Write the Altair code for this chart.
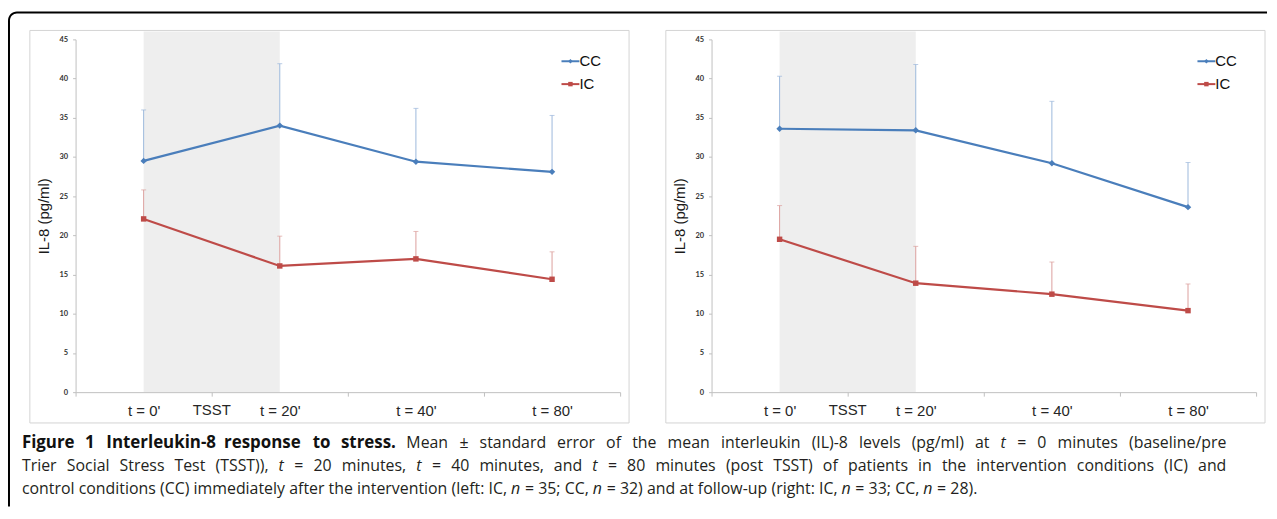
import altair as alt
import pandas as pd

# ---------------- data ----------------
times = ["t = 0'", "t = 20'", "t = 40'", "t = 80'"]
series = ["CC", "IC"]
y_ticks = [0, 5, 10, 15, 20, 25, 30, 35, 40, 45]

left_cc_mean = [29.5, 34.0, 29.4, 28.1]
left_cc_upper = [36.0, 41.9, 36.2, 35.3]
left_ic_mean = [22.1, 16.1, 17.0, 14.4]
left_ic_upper = [25.8, 19.9, 20.5, 17.9]

right_cc_mean = [33.6, 33.4, 29.2, 23.6]
right_cc_upper = [40.3, 41.8, 37.1, 29.3]
right_ic_mean = [19.5, 13.9, 12.5, 10.4]
right_ic_upper = [23.8, 18.6, 16.6, 13.8]

caption_bold = "Figure 1 Interleukin-8 response to stress."
caption_lines = [
    "Mean \u00b1 standard error of the mean interleukin (IL)-8 levels (pg/ml) at t = 0 minutes (baseline/pre",
    "Trier Social Stress Test (TSST)), t = 20 minutes, t = 40 minutes, and t = 80 minutes (post TSST) of patients in the intervention conditions (IC) and",
    "control conditions (CC) immediately after the intervention (left: IC, n = 35; CC, n = 32) and at follow-up (right: IC, n = 33; CC, n = 28).",
]
italic_words = ["t", "n"]

# ---------------- style ----------------
LINE_COL = {"CC": "#4a7ebb", "IC": "#be4b48"}
ERR_COL = {"CC": "#9cb8dc", "IC": "#dc9f9d"}
SHAPE = {"CC": "diamond", "IC": "square"}
W, H = 548, 355
STEP = W / len(times)
AX_GREY = "#c0c0c0"
LAB_FONT = "Liberation Sans"
CAP_FONT = "Open Sans"
CAP_SIZE = 16
BOLD_SIZE = 17
CAP_X0 = -54          # caption left edge (relative to left plot origin)
CAP_X1 = 1158         # justified right edge
CAP_Y = [411, 434, 457]

# approximate Open Sans advance widths (units per 2048 em) used to lay out the justified caption
OS_W = {
    " ": 532, "(": 606, ")": 606, ",": 502, ".": 545, "-": 659, "=": 1171, "\u00b1": 1171,
    "/": 752, ";": 545, ":": 545, "'": 453,
    "A": 1296, "B": 1327, "C": 1292, "D": 1493, "E": 1139, "F": 1057, "G": 1491, "H": 1511,
    "I": 571, "L": 1073, "M": 1864, "N": 1556, "O": 1599, "P": 1240, "R": 1278, "S": 1104,
    "T": 1145, "U": 1499,
    "a": 1139, "b": 1237, "c": 975, "d": 1237, "e": 1149, "f": 694, "g": 1102, "h": 1257,
    "i": 518, "k": 1075, "l": 518, "m": 1905, "n": 1257, "o": 1237, "p": 1237, "r": 836,
    "s": 977, "t": 723, "u": 1257, "v": 1026, "w": 1593, "x": 1073, "y": 1028, "z": 977,
}


def text_w(s, bold=False):
    size = BOLD_SIZE if bold else CAP_SIZE
    w = sum(OS_W.get(ch, 1171) for ch in s) / 2048 * size
    return w * (1.065 if bold else 1.0)


def caption_rows():
    rows = []
    n_bold = len(caption_bold.split(" "))
    for li, line in enumerate(caption_lines):
        words = line.split(" ")
        styles = ["italic" if w in italic_words else "normal" for w in words]
        if li == 0:
            words = caption_bold.split(" ") + words
            styles = ["bold"] * n_bold + styles
        widths = [text_w(w, s == "bold") for w, s in zip(words, styles)]
        if li < len(caption_lines) - 1:
            gap = (CAP_X1 - CAP_X0 - sum(widths)) / (len(words) - 1)
        else:
            gap = OS_W[" "] / 2048 * CAP_SIZE
        x = CAP_X0
        for w, s, wd in zip(words, styles, widths):
            rows.append({"word": w, "style": s, "px": x, "py": CAP_Y[li]})
            x += wd + gap
    return pd.DataFrame(rows)


one = pd.DataFrame({"k": [0]})


def enc_x():
    return alt.X(
        "time:N",
        scale=alt.Scale(type="band", domain=times, paddingInner=0, paddingOuter=0),
        axis=alt.Axis(
            title=None, tickBand="extent", domainColor=AX_GREY, tickColor=AX_GREY,
            tickSize=4, labelFont=LAB_FONT, labelFontSize=15, labelColor="#262626",
            labelPadding=7, labelAngle=0, grid=False, zindex=1,
        ),
    )


def enc_y(field):
    return alt.Y(
        f"{field}:Q",
        scale=alt.Scale(domain=[0, 45], nice=False, zero=True),
        axis=alt.Axis(
            title="IL-8 (pg/ml)", values=y_ticks, domainColor=AX_GREY, tickColor=AX_GREY,
            tickSize=3, labelFont="Lato", labelFontWeight="bold", labelFontSize=7.5,
            labelColor="#333333", labelPadding=5, grid=False, zindex=1,
            titleFont=LAB_FONT, titleFontSize=15, titleFontWeight="normal",
            titleColor="#1a1a1a", titlePadding=8,
        ),
    )


def panel(cc_mean, cc_upper, ic_mean, ic_upper, first):
    layers = []
    if first:
        # outer frame (black with rounded top-left corner)
        layers.append(
            alt.Chart(one).mark_rect(color="black", cornerRadiusTopLeft=9).encode(
                x=alt.value(-68), x2=alt.value(1199), y=alt.value(-28), y2=alt.value(470)
            )
        )
        layers.append(
            alt.Chart(one).mark_rect(color="white", cornerRadiusTopLeft=7).encode(
                x=alt.value(-66), x2=alt.value(1201), y=alt.value(-26), y2=alt.value(472)
            )
        )
    # panel border
    layers.append(
        alt.Chart(one).mark_rect(fill="white", stroke="#d4d4d4", strokeWidth=1).encode(
            x=alt.value(-46), x2=alt.value(557), y=alt.value(-9), y2=alt.value(386)
        )
    )
    # TSST shading
    layers.append(
        alt.Chart(one).mark_rect(color="#eeeeee").encode(
            x=alt.value(STEP * 0.5), x2=alt.value(STEP * 1.5), y=alt.value(-8), y2=alt.value(H)
        )
    )
    layers.append(
        alt.Chart(one).mark_text(font=LAB_FONT, fontSize=15, color="#262626", baseline="top").encode(
            x=alt.value(STEP), y=alt.value(H + 11), text=alt.value("TSST")
        )
    )
    data = {"CC": (cc_mean, cc_upper), "IC": (ic_mean, ic_upper)}
    for s in series:
        m, u = data[s]
        df = pd.DataFrame({"time": times, "mean": m, "upper": u})
        base = alt.Chart(df)
        layers.append(
            base.mark_rule(color=ERR_COL[s], strokeWidth=1).encode(
                x=enc_x(), y=enc_y("mean"), y2="upper:Q"
            )
        )
        layers.append(
            base.mark_tick(color=ERR_COL[s], size=5, thickness=1).encode(
                x=enc_x(), y=enc_y("upper")
            )
        )
        layers.append(
            base.mark_line(color=LINE_COL[s], strokeWidth=2.2).encode(
                x=enc_x(), y=enc_y("mean")
            )
        )
        layers.append(
            base.mark_point(color=LINE_COL[s], filled=True, opacity=1, shape=SHAPE[s],
                            size=42 if s == "CC" else 30).encode(
                x=enc_x(), y=enc_y("mean")
            )
        )
    # legend
    for i, s in enumerate(series):
        ly = 22 + 23 * i
        layers.append(
            alt.Chart(one).mark_rule(color=LINE_COL[s], strokeWidth=2).encode(
                x=alt.value(489), x2=alt.value(507), y=alt.value(ly)
            )
        )
        layers.append(
            alt.Chart(one).mark_point(color=LINE_COL[s], filled=True, opacity=1, shape=SHAPE[s], size=20).encode(
                x=alt.value(498), y=alt.value(ly)
            )
        )
        layers.append(
            alt.Chart(one).mark_text(font=LAB_FONT, fontSize=15, color="#111111", align="left", baseline="middle").encode(
                x=alt.value(507), y=alt.value(ly), text=alt.value(s)
            )
        )
    if first:
        cap = caption_rows()
        for style in ["bold", "normal", "italic"]:
            sub = cap[cap["style"] == style]
            kw = dict(font=CAP_FONT, fontSize=CAP_SIZE, align="left", baseline="alphabetic")
            if style == "bold":
                kw.update(fontWeight="bold", color="#111111", fontSize=BOLD_SIZE)
            else:
                kw.update(color="#231f20")
            if style == "italic":
                kw.update(fontStyle="italic")
            layers.append(
                alt.Chart(sub).mark_text(**kw).encode(
                    x=alt.X("px:Q", scale=None, axis=None),
                    y=alt.Y("py:Q", scale=None, axis=None),
                    text="word:N",
                )
            )
    return alt.layer(*layers).properties(width=W, height=H)


left = panel(left_cc_mean, left_cc_upper, left_ic_mean, left_ic_upper, True)
right = panel(right_cc_mean, right_cc_upper, right_ic_mean, right_ic_upper, False)

chart = (
    alt.hconcat(left, right, spacing=92, bounds="flush")
    .configure(padding={"left": 0, "top": 2, "right": 0, "bottom": 0}, background="white")
    .configure_view(stroke=None)
)

chart.save("out.html", embed_options={"renderer": "svg", "actions": False})
